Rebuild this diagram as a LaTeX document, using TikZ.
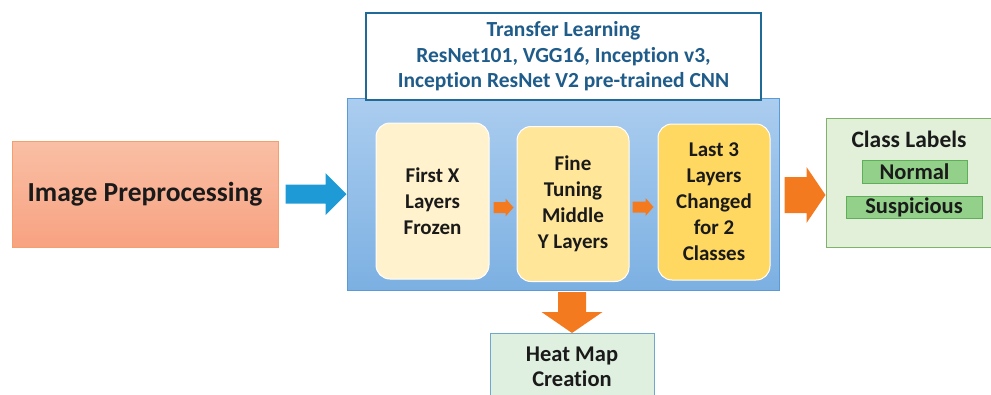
\documentclass[tikz,border=0pt]{standalone}
\usepackage{fontspec}
\setmainfont{Carlito}[RawFeature=-liga]
\usetikzlibrary{calc}
\definecolor{tlblue}{HTML}{1F5C8A}
\definecolor{tlborder}{HTML}{1F6A96}
\definecolor{bigtop}{HTML}{ABCDEF}
\definecolor{bigbot}{HTML}{7CB0E2}
\definecolor{bigborder}{HTML}{5B9BD5}
\definecolor{preTop}{HTML}{F9BFA5}
\definecolor{preBot}{HTML}{F8A281}
\definecolor{preBorder}{HTML}{F4A06E}
\definecolor{arrBlue}{HTML}{1E9AD6}
\definecolor{arrOrange}{HTML}{F47A20}
\definecolor{yA}{HTML}{FFF2CC}
\definecolor{yB}{HTML}{FFE699}
\definecolor{yC}{HTML}{FFD862}
\definecolor{lgreen}{HTML}{E2F0D9}
\definecolor{gborder}{HTML}{7FB36A}
\definecolor{gfill}{HTML}{93D18B}
\definecolor{gboxborder}{HTML}{5FAE5A}
\definecolor{heatborder}{HTML}{6FA8C8}
\definecolor{heatfill}{HTML}{DFF0E0}
\definecolor{txt}{HTML}{1A1A1A}
\tikzset{
  layerbox/.style={draw=white, line width=1pt, rounded corners=14pt, align=center,
    text=txt, font=\bfseries\fontsize{21}{26}\selectfont},
  labbox/.style={draw=gboxborder, fill=gfill, line width=1pt, text=txt, inner sep=0pt,
    font=\bfseries\fontsize{22.5}{26}\selectfont},
}
% right-pointing block arrow: #2 tip, #3 total length, #4 head length, #5 head width, #6 shaft width
\newcommand{\rarrow}[6][]{%
  \fill[#1] (#2) -- ++(-#4,-#5/2) -- ++(0,#5/2-#6/2) -- ++(-#3+#4,0) -- ++(0,#6)
    -- ++(#3-#4,0) -- ++(0,#5/2-#6/2) -- cycle;}
\newcommand{\darrow}[6][]{%
  \fill[#1] (#2) -- ++(-#5/2,-#4) -- ++(#5/2-#6/2,0) -- ++(0,-#3+#4) -- ++(#6,0)
    -- ++(0,#3-#4) -- ++(#5/2-#6/2,0) -- cycle;}
\begin{document}
\begin{tikzpicture}[x=1pt,y=-1pt]
\useasboundingbox (0,0) rectangle (991,394);
\clip (0,0) rectangle (991,394);
% Image preprocessing
\node[draw=preBorder, line width=1pt, top color=preTop, bottom color=preBot,
  minimum width=266pt, minimum height=106pt, text=txt,
  font=\bfseries\fontsize{27.5}{30}\selectfont] (pre) at (145,194) {Image Preprocessing};
% Big blue box
\node[draw=bigborder, line width=1pt, top color=bigtop, bottom color=bigbot,
  minimum width=432pt, minimum height=192pt] (big) at (563,194) {};
% Transfer learning box
\node[draw=tlborder, line width=2.5pt, fill=white, minimum width=395pt, minimum height=87pt,
  text=tlblue, align=center, font=\bfseries\fontsize{21.5}{25.5}\selectfont] (tl) at (563.5,56.5)
  {Transfer Learning\\ResNet101, VGG16, Inception v3,\\Inception ResNet V2 pre-trained CNN};
% Layer boxes
\node[layerbox, fill=yA, minimum width=113pt, minimum height=156pt] (l1) at (432.5,201)
  {First X\\Layers\\Frozen};
\node[layerbox, fill=yB, minimum width=112pt, minimum height=155pt] (l2) at (573,204)
  {Fine\\Tuning\\Middle\\Y Layers};
\node[layerbox, fill=yC, minimum width=112pt, minimum height=156pt] (l3) at (714,202)
  {Last 3\\Layers\\Changed\\for 2\\Classes};
% Class labels
\node[draw=gborder, line width=1pt, fill=lgreen, minimum width=168pt, minimum height=129pt]
  (cls) at (910,182.5) {};
\node[text=txt, font=\bfseries\fontsize{23.5}{25}\selectfont] (clt) at (909,139) {Class Labels};
\node[labbox, minimum width=105pt, minimum height=23pt] (nor) at (914.5,171.5) {Normal};
\node[labbox, minimum width=136pt, minimum height=22pt] (sus) at (914,207) {Suspicious};
% Heat map
\node[draw=heatborder, line width=1pt, fill=heatfill, minimum width=164pt, minimum height=70pt,
  anchor=north] (heat) at (572,333) {};
\node[align=center, text=txt, font=\bfseries\fontsize{22.5}{25}\selectfont] (heatt) at (572,366.5)
  {Heat Map\\Creation};
% Arrows
\coordinate (t1) at (big.west |- pre.east);
\rarrow[arrBlue]{t1}{61}{21}{42}{19}
\coordinate (t2) at ($(cls.west |- big.east)+(0,1)$);
\rarrow[arrOrange]{t2}{41}{19}{56}{36}
\coordinate (t3) at (heat.north);
\darrow[arrOrange]{t3}{41}{21}{61}{28}
\coordinate (t4) at ($(l2.west)+(-3,3.5)$);
\rarrow[arrOrange]{t4}{20}{8}{18}{11}
\coordinate (t5) at ($(l3.west)+(-4,5)$);
\rarrow[arrOrange]{t5}{21}{8}{18}{11}
\end{tikzpicture}
\end{document}
